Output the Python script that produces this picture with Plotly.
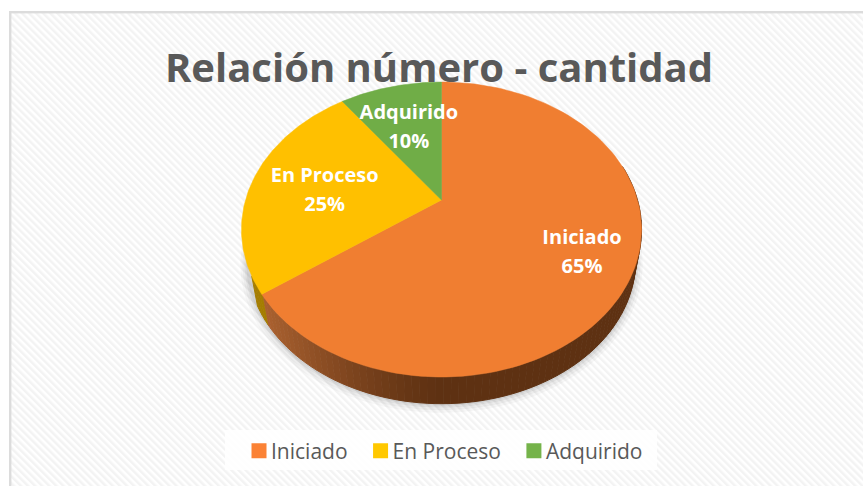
import base64
import numpy as np
import plotly.graph_objects as go

categories = ["Iniciado", "En Proceso", "Adquirido"]
values = [65, 25, 10]
title_text = "Relación número - cantidad"

top_colors = ["#F07E31", "#FFC000", "#70AD47"]
legend_colors = ["#FB8235", "#FFC800", "#75B34A"]
label_radius = [0.75, 0.615, 0.60]
label_nudge = [1.5, 5.0, 1.0]

W, H = 863, 487
CX, CY, A, B, K = 441.5, 200.0, 196.0, 141.6, 0.2
WALL_SCALE, WALL_DROP = 0.97, 32.0
LABEL_GAP = 14.5


def project(theta, r=1.0, scale=1.0, drop=0.0):
    u, v = r * np.sin(theta), r * np.cos(theta)
    d = 1 + K * v
    return CX + scale * A * u / d, CY + drop - scale * B * v / d


def mix(c1, c2, t):
    return "rgb(%d,%d,%d)" % tuple(round(a + (b - a) * t) for a, b in zip(c1, c2))


fractions = np.array(values) / sum(values)
edges = np.concatenate([[0], np.cumsum(fractions)]) * 2 * np.pi

svg = f"""<svg xmlns="http://www.w3.org/2000/svg" width="{W}" height="{H}">
<defs><pattern id="p" width="5" height="5" patternUnits="userSpaceOnUse" patternTransform="rotate(-45)">
<rect width="5" height="5" fill="#ffffff"/><rect width="2.5" height="5" fill="#f3f3f3"/></pattern></defs>
<rect width="{W}" height="{H}" fill="#ffffff"/>
<rect x="10" y="12" width="{W}" height="{H-13}" fill="url(#p)"/>
<rect x="9" y="11" width="{W}" height="2.4" fill="#dcdcdc"/>
<rect x="9" y="11" width="2.4" height="{H-12}" fill="#dcdcdc"/>
</svg>"""
bg_uri = "data:image/svg+xml;base64," + base64.b64encode(svg.encode()).decode()

fig = go.Figure()

# soft shadow under the wall
full = np.linspace(0, 2 * np.pi, 181)
for grow, alpha in [(7, 0.03), (5, 0.04), (3, 0.05), (1.5, 0.06)]:
    x, y = project(full, scale=WALL_SCALE + grow / A, drop=WALL_DROP + grow * 0.4)
    fig.add_trace(go.Scatter(x=x, y=y, mode="lines", fill="toself", line_width=0,
                             fillcolor=f"rgba(0,0,0,{alpha})", hoverinfo="skip", showlegend=False))

# side wall, strip by strip
wall_steps = np.linspace(np.pi * 0.42, edges[1] + 0.12, 90)
for t0, t1 in zip(wall_steps[:-1], wall_steps[1:]):
    ts = np.array([t0, t1])
    xt, yt = project(ts)
    xb, yb = project(ts[::-1], scale=WALL_SCALE, drop=WALL_DROP)
    xm = float(xt.mean())
    if (t0 + t1) / 2 > edges[1]:
        color = "rgb(165,125,0)"
    elif xm > 440:
        color = "rgb(94,49,18)"
    else:
        color = mix((94, 49, 18), (172, 98, 48), ((440 - xm) / 180) ** 1.3)
    fig.add_trace(go.Scatter(x=np.r_[xt, xb], y=np.r_[yt, yb], mode="lines", fill="toself",
                             line=dict(width=1, color=color), fillcolor=color,
                             hoverinfo="skip", showlegend=False))

# top face wedges
for name, color, t0, t1 in zip(categories, top_colors, edges[:-1], edges[1:]):
    ts = np.linspace(t0, t1, 120)
    x, y = project(ts)
    fig.add_trace(go.Scatter(x=np.r_[CX, x, CX], y=np.r_[CY, y, CY], mode="lines", fill="toself",
                             line=dict(width=0.5, color=color), fillcolor=color,
                             name=name, showlegend=False, hoverinfo="name"))

# data labels: name above the anchor, percentage below it
mids = (edges[:-1] + edges[1:]) / 2
lx, ly = project(mids, r=np.array(label_radius))
ly = ly + np.array(label_nudge)
label_font = dict(family="Open Sans", size=20, color="white", weight="bold")
fig.add_trace(go.Scatter(x=lx, y=ly - LABEL_GAP, mode="text", hoverinfo="skip", showlegend=False,
                         text=categories, textposition="middle center", textfont=label_font))
fig.add_trace(go.Scatter(x=lx, y=ly + LABEL_GAP, mode="text", hoverinfo="skip", showlegend=False,
                         text=[f"{v}%" for v in values], textposition="middle center",
                         textfont=label_font))

# legend entries
for name, color in zip(categories, legend_colors):
    fig.add_trace(go.Scatter(x=[None], y=[None], mode="markers", name=name,
                             marker=dict(symbol="square", size=15, color=color)))

fig.update_layout(
    width=W, height=H, margin=dict(l=0, r=0, t=0, b=0, autoexpand=False),
    paper_bgcolor="white", plot_bgcolor="rgba(0,0,0,0)",
    title=dict(text=title_text, x=439 / W, xanchor="center", y=1 - 68 / H, yanchor="middle",
               font=dict(family="Open Sans", size=40, color="#595959", weight="bold")),
    xaxis=dict(range=[0, W], visible=False, fixedrange=True),
    yaxis=dict(range=[H, 0], visible=False, fixedrange=True),
    images=[dict(source=bg_uri, xref="paper", yref="paper", x=0, y=1, sizex=1, sizey=1,
                 sizing="stretch", xanchor="left", yanchor="top", layer="below")],
    shapes=[dict(type="rect", xref="x", yref="y", x0=225, x1=657, y0=430, y1=470,
                 fillcolor="rgba(255,255,255,0.85)", line_width=0, layer="below")],
    legend=dict(orientation="h", x=439.5 / W, xanchor="center", y=1 - 451 / H, yanchor="middle",
                bgcolor="rgba(0,0,0,0)", font=dict(family="Open Sans", size=21, color="#595959"),
                itemwidth=30),
    showlegend=True,
)

post = """
document.body.style.margin = '0';
document.querySelectorAll('.legend .legendpoints').forEach(function (g) {
  g.setAttribute('transform', 'translate(8,0)');
});
"""
fig.write_html("out.html", config=dict(displayModeBar=False), post_script=post)
